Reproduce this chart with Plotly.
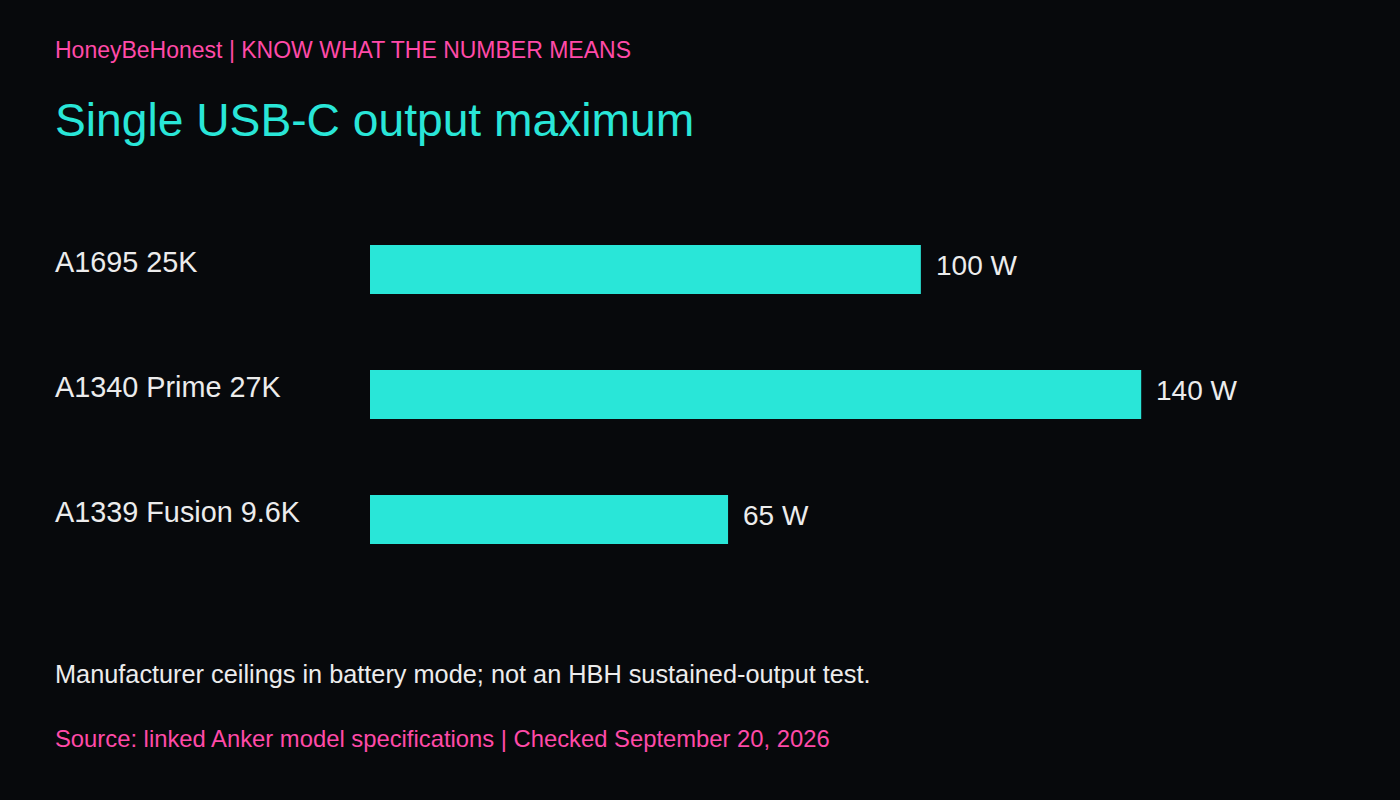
import plotly.graph_objects as go

# chart data
models = ["A1695 25K", "A1340 Prime 27K", "A1339 Fusion 9.6K"]
watts = [100, 140, 65]
value_labels = ["100 W", "140 W", "65 W"]

kicker = "HoneyBeHonest | KNOW WHAT THE NUMBER MEANS"
title = "Single USB-C output maximum"
note = "Manufacturer ceilings in battery mode; not an HBH sustained-output test."
source = "Source: linked Anker model specifications | Checked September 20, 2026"

BG = "#07090c"
TEAL = "#29e6d8"
PINK = "#ff4aa8"
TEXT = "#ececec"
FONT = "Liberation Sans, Arial, sans-serif"

W, H = 1400, 800
M_L, M_R, M_T, M_B = 370, 66, 207, 218
X_MAX = 175
TEXT_LEFT = 53  # annotation box left edge (text sits ~2px inside)


def paper_x(px):
    return (px - M_L) / (W - M_L - M_R)


def paper_y(py):
    return (H - M_B - py) / (H - M_T - M_B)


fig = go.Figure()
fig.add_trace(go.Bar(
    x=watts,
    y=models,
    orientation="h",
    marker=dict(color=TEAL, line=dict(width=0)),
    width=0.392,
    hoverinfo="skip",
))

annotations = []
for m, v, lab in zip(models, watts, value_labels):
    annotations.append(dict(
        x=paper_x(TEXT_LEFT), xref="paper", y=m, yref="y",
        text=m, showarrow=False, xanchor="left", yanchor="middle",
        yshift=8, font=dict(family=FONT, size=28.8, color=TEXT),
    ))
    annotations.append(dict(
        x=v, xref="x", y=m, yref="y",
        text=lab, showarrow=False, xanchor="left", yanchor="middle",
        xshift=13, yshift=4, font=dict(family=FONT, size=28, color=TEXT),
    ))

# header and footer lines: text, centre y in px, size, colour
for txt, py, size, col in [
    (kicker, 50, 23, PINK),
    (title, 120, 46.2, TEAL),
    (note, 674, 25.3, TEXT),
    (source, 738, 23.8, PINK),
]:
    annotations.append(dict(
        x=paper_x(TEXT_LEFT), xref="paper", y=paper_y(py), yref="paper",
        text=txt, showarrow=False, xanchor="left", yanchor="middle",
        font=dict(family=FONT, size=size, color=col),
    ))

fig.update_layout(
    width=W, height=H,
    margin=dict(l=M_L, r=M_R, t=M_T, b=M_B),
    paper_bgcolor=BG, plot_bgcolor=BG,
    showlegend=False,
    xaxis=dict(range=[0, X_MAX], visible=False, fixedrange=True),
    yaxis=dict(categoryorder="array", categoryarray=models[::-1],
               range=[-0.5, 2.5], visible=False, fixedrange=True),
    annotations=annotations,
    font=dict(family=FONT),
)

fig.write_html(
    "out.html",
    config={"displayModeBar": False},
    post_script="document.body.style.margin='0';document.body.style.background='#07090c';",
)
